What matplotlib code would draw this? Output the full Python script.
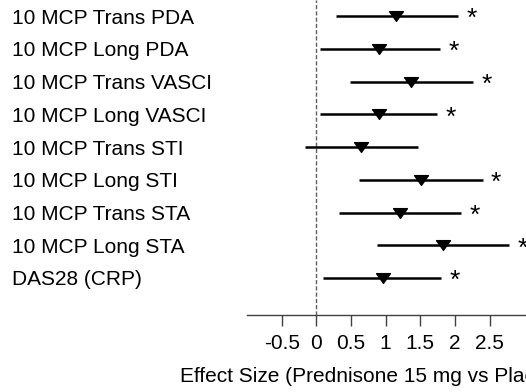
import numpy as np
import matplotlib.pyplot as plt
from matplotlib.path import Path

# Daten (von oben nach unten)
labels = ["10 MCP Trans PDA", "10 MCP Long PDA", "10 MCP Trans VASCI",
          "10 MCP Long VASCI", "10 MCP Trans STI", "10 MCP Long STI",
          "10 MCP Trans STA", "10 MCP Long STA", "DAS28 (CRP)"]
effect = [1.15, 0.90, 1.37, 0.90, 0.65, 1.51, 1.21, 1.83, 0.96]
ci_low = [0.29, 0.06, 0.49, 0.06, -0.17, 0.61, 0.32, 0.87, 0.10]
ci_high = [2.04, 1.79, 2.26, 1.74, 1.46, 2.40, 2.09, 2.78, 1.80]
signif = [True, True, True, True, False, True, True, True, True]
xticks = [-0.5, 0, 0.5, 1, 1.5, 2, 2.5]
xticklabels = ["-0.5", "0", "0.5", "1", "1.5", "2", "2.5"]

plt.rcParams['font.family'] = ['Liberation Sans', 'DejaVu Sans']

fig = plt.figure(figsize=(5.26, 3.92), dpi=100)
ax = fig.add_axes([247 / 526, 77 / 392, 312 / 526, 315 / 392])

ypos = np.arange(len(labels))[::-1]

# Nulllinie
ax.axvline(0, color='#606060', linestyle=(0, (3, 1.5)), linewidth=1.0, zorder=1)

# Konfidenzintervalle
ax.hlines(ypos, ci_low, ci_high, color='black', linewidth=1.8, zorder=2)

# Marker: flaches Dreieck nach unten
tri = Path([(-1, 0.7), (1, 0.7), (0, -0.7), (-1, 0.7)],
           [Path.MOVETO, Path.LINETO, Path.LINETO, Path.CLOSEPOLY])
ax.plot(effect, ypos, linestyle='none', marker=tri, markersize=10,
        color='black', zorder=3)

# Sterne fuer Signifikanz
for y, hi, s in zip(ypos, ci_high, signif):
    if s:
        ax.text(hi + 0.12, y - 0.1, "*", fontsize=19, ha='left', va='center')

ax.set_xlim(-1.0, 3.5)
ax.set_ylim(-1.13, 8.49)

ax.set_xticks(xticks)
ax.set_xticklabels(xticklabels, fontsize=15)
ax.set_yticks(ypos)
ax.set_yticklabels(labels, fontsize=15)
for lbl in ax.get_yticklabels():
    lbl.set_horizontalalignment('left')

ax.tick_params(axis='y', length=0, pad=169)
ax.tick_params(axis='x', direction='out', length=8, width=1.0,
               color='#404040', pad=6)

for side in ['left', 'right', 'top']:
    ax.spines[side].set_visible(False)
ax.spines['bottom'].set_color('#404040')
ax.spines['bottom'].set_linewidth(1.0)

ax.set_xlabel("Effect Size (Prednisone 15 mg vs Placebo)", fontsize=15)
ax.xaxis.label.set_horizontalalignment('left')
ax.xaxis.set_label_coords((180 - 247) / 312, -0.165)

fig.savefig("out.png", dpi=100)
